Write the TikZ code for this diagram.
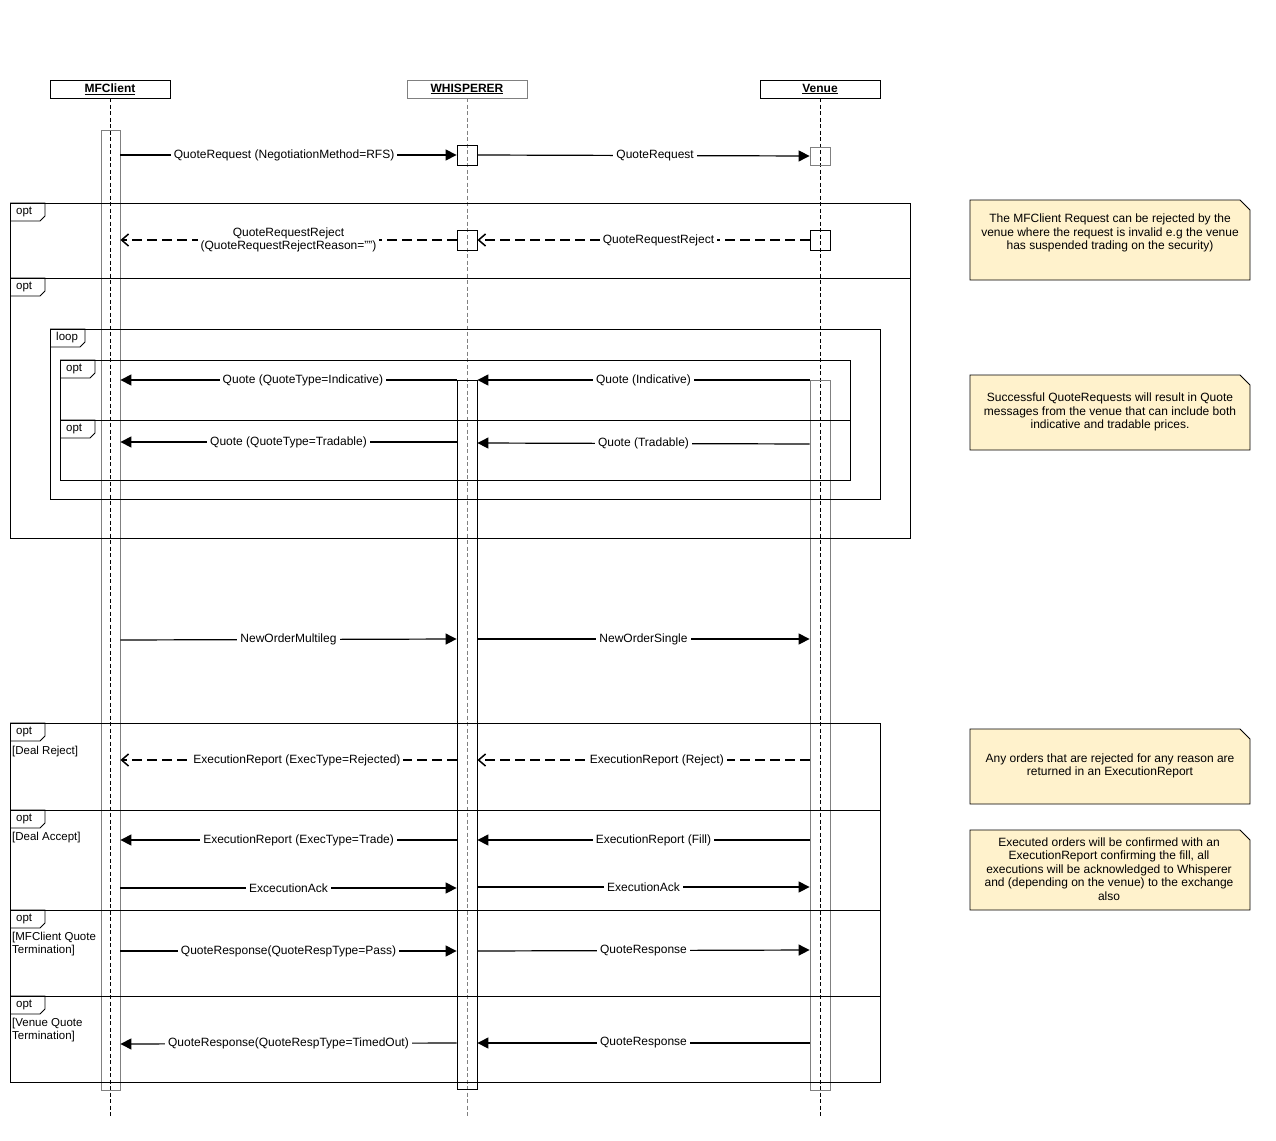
\documentclass[tikz,border=0pt]{standalone}
\usepackage{fontspec}
\setmainfont{Liberation Sans}
\usetikzlibrary{arrows.meta,backgrounds}
\definecolor{noteyellow}{HTML}{FFF2CC}
\definecolor{lgrey}{HTML}{808080}
\tikzset{
  hdr/.style={draw, minimum width=120pt, minimum height=18pt, inner sep=0pt, font=\fontsize{12}{13}\selectfont\bfseries},
  act/.style={draw, inner sep=0pt, line width=0.8pt},
  life/.style={dash pattern=on 4pt off 2.5pt, line width=0.7pt},
  msg/.style={line width=1.2pt, -{Triangle[length=11pt,width=11pt]}},
  ret/.style={line width=1.2pt, dash pattern=on 10pt off 5pt, -{Straight Barb[length=7pt,width=12pt,line width=1.5pt]}},
  lbl/.style={fill=white, inner xsep=3pt, inner ysep=1.5pt, font=\fontsize{12}{13.5}\selectfont, align=center},
  frm/.style={draw, line width=0.8pt},
  tablbl/.style={inner sep=0pt, font=\fontsize{11.5}{13}\selectfont},
  cond/.style={inner sep=0pt, font=\fontsize{11.5}{13}\selectfont, align=left, anchor=north west},
  notebox/.style={draw, fill=noteyellow, line width=0.8pt},
  notetext/.style={inner sep=0pt, font=\fontsize{12}{13.5}\selectfont, align=center}
}
\newcommand{\FrTab}[4]{\draw[frm] (#1,#2) -- ++(35,0) -- ++(0,13) -- ++(-5,5) -- ++(-30,0);
  \node[tablbl, anchor=west] (#4) at ({#1+6},{#2+8.5}) {#3};}
\newcommand{\NoteShape}[4]{\path[notebox] (#1,#2) -- ({#3-10},#2) -- (#3,{#2+10}) -- (#3,#4) -- (#1,#4) -- cycle;}
\begin{document}
\begin{tikzpicture}[x=1pt,y=-1pt]
\useasboundingbox[fill=white] (0,0) rectangle (1276,1140);

% headers
\node[hdr] (hc) at (110,89) {\underline{MFClient}};
\node[hdr, draw=lgrey] (hw) at (467,89) {\underline{WHISPERER}};
\node[hdr] (hv) at (820,89) {\underline{Venue}};

% lifelines
\coordinate (ec) at (110,1118);
\coordinate (ew) at (467,1118);
\coordinate (ev) at (820,1118);
\draw[life] (hc.south) -- (ec);
\draw[life, draw=lgrey] (hw.south) -- (ew);
\draw[life] (hv.south) -- (ev);

% activations
\node[act, draw=lgrey, minimum width=19pt, minimum height=960pt] (ac) at (110.5,610) {};
\node[act, minimum width=20pt, minimum height=20pt] (w0) at (467,155) {};
\node[act, minimum width=20pt, minimum height=20pt] (w1) at (467,240) {};
\node[act, minimum width=20pt, minimum height=709pt] (w2) at (467,734.5) {};
\node[act, draw=lgrey, minimum width=20pt, minimum height=18pt] (v0) at (820,156) {};
\node[act, minimum width=20pt, minimum height=20pt] (v1) at (820,240) {};
\node[act, draw=lgrey, minimum width=20pt, minimum height=710pt] (v2) at (820,735) {};

% frames
\draw[frm] (10,203) rectangle (910,278);
\FrTab{10}{203}{opt}{t1}
\draw[frm] (10,278) rectangle (910,538);
\FrTab{10}{278}{opt}{t2}
\draw[frm] (50,329) rectangle (880,499);
\FrTab{50}{329}{loop}{t3}
\draw[frm] (60,360) rectangle (850,420);
\FrTab{60}{360}{opt}{t4}
\draw[frm] (60,420) rectangle (850,480);
\FrTab{60}{420}{opt}{t5}

\draw[frm] (10,723) rectangle (880,810);
\FrTab{10}{723}{opt}{t6}
\node[cond] (c6) at (12,746) {[Deal Reject]};
\draw[frm] (10,810) rectangle (880,910);
\FrTab{10}{810}{opt}{t7}
\node[cond] (c7) at (12,832) {[Deal Accept]};
\draw[frm] (10,910) rectangle (880,996);
\FrTab{10}{910}{opt}{t8}
\node[cond] (c8) at (12,932) {[MFClient Quote\\Termination]};
\draw[frm] (10,996) rectangle (880,1082);
\FrTab{10}{996}{opt}{t9}
\node[cond] (c9) at (12,1018) {[Venue Quote\\Termination]};

% messages
\draw[msg] (ac.east |- 0,155) -- node[lbl, pos=0.487] {QuoteRequest (NegotiationMethod=RFS)} (w0.west |- 0,155);
\draw[msg] (w0.east |- 0,155) -- node[lbl, pos=0.535] {QuoteRequest} (v0.west |- 0,156);
\draw[ret] (v1.west |- 0,240) -- node[lbl, pos=0.455] {QuoteRequestReject} (w1.east |- 0,240);
\draw[ret] (w1.west |- 0,240) -- node[lbl] {QuoteRequestReject\\(QuoteRequestRejectReason="")} (ac.east |- 0,240);

\draw[msg] (v2.west |- 0,380) -- node[lbl] {Quote (Indicative)} (w2.east |- 0,380);
\draw[msg] (w2.west |- 0,380) -- node[lbl, pos=0.457] {Quote (QuoteType=Indicative)} (ac.east |- 0,380);
\draw[msg] (v2.west |- 0,444) -- node[lbl] {Quote (Tradable)} (w2.east |- 0,443);
\draw[msg] (w2.west |- 0,442) -- node[lbl] {Quote (QuoteType=Tradable)} (ac.east |- 0,442);

\draw[msg] (ac.east |- 0,640) -- node[lbl] {NewOrderMultileg} (w2.west |- 0,639);
\draw[msg] (w2.east |- 0,639) -- node[lbl] {NewOrderSingle} (v2.west |- 0,639);

\draw[ret] (w2.west |- 0,760) -- node[lbl, pos=0.475] {ExecutionReport (ExecType=Rejected)} (ac.east |- 0,760);
\draw[ret] (v2.west |- 0,760) -- node[lbl, pos=0.46] {ExecutionReport (Reject)} (w2.east |- 0,760);

\draw[msg] (w2.west |- 0,840) -- node[lbl, pos=0.47] {ExecutionReport (ExecType=Trade)} (ac.east |- 0,840);
\draw[msg] (v2.west |- 0,840) -- node[lbl, pos=0.47] {ExecutionReport (Fill)} (w2.east |- 0,840);
\draw[msg] (ac.east |- 0,888) -- node[lbl] {ExcecutionAck} (w2.west |- 0,888);
\draw[msg] (w2.east |- 0,887) -- node[lbl] {ExecutionAck} (v2.west |- 0,887);

\draw[msg] (ac.east |- 0,951) -- node[lbl] {QuoteResponse(QuoteRespType=Pass)} (w2.west |- 0,951);
\draw[msg] (w2.east |- 0,951) -- node[lbl] {QuoteResponse} (v2.west |- 0,950);
\draw[msg] (w2.west |- 0,1043) -- node[lbl] {QuoteResponse(QuoteRespType=TimedOut)} (ac.east |- 0,1044);
\draw[msg] (v2.west |- 0,1043) -- node[lbl] {QuoteResponse} (w2.east |- 0,1043);

% notes
\NoteShape{970}{200}{1250}{280}
\node[notetext] (n1) at (1110,233) {The MFClient Request can be rejected by the\\venue where the request is invalid e.g the venue\\has suspended trading on the security)};
\NoteShape{970}{375}{1250}{450}
\node[notetext] (n2) at (1110,412) {Successful QuoteRequests will result in Quote\\messages from the venue that can include both\\indicative and tradable prices.};
\NoteShape{970}{729}{1250}{804}
\node[notetext] (n3) at (1110,766) {Any orders that are rejected for any reason are\\returned in an ExecutionReport};
\NoteShape{970}{830}{1250}{910}
\node[notetext] (n4) at (1109,869) {Executed orders will be confirmed with an\\ExecutionReport confirming the fill, all\\executions will be acknowledged to Whisperer\\and (depending on the venue) to the exchange\\also};
\end{tikzpicture}
\end{document}
